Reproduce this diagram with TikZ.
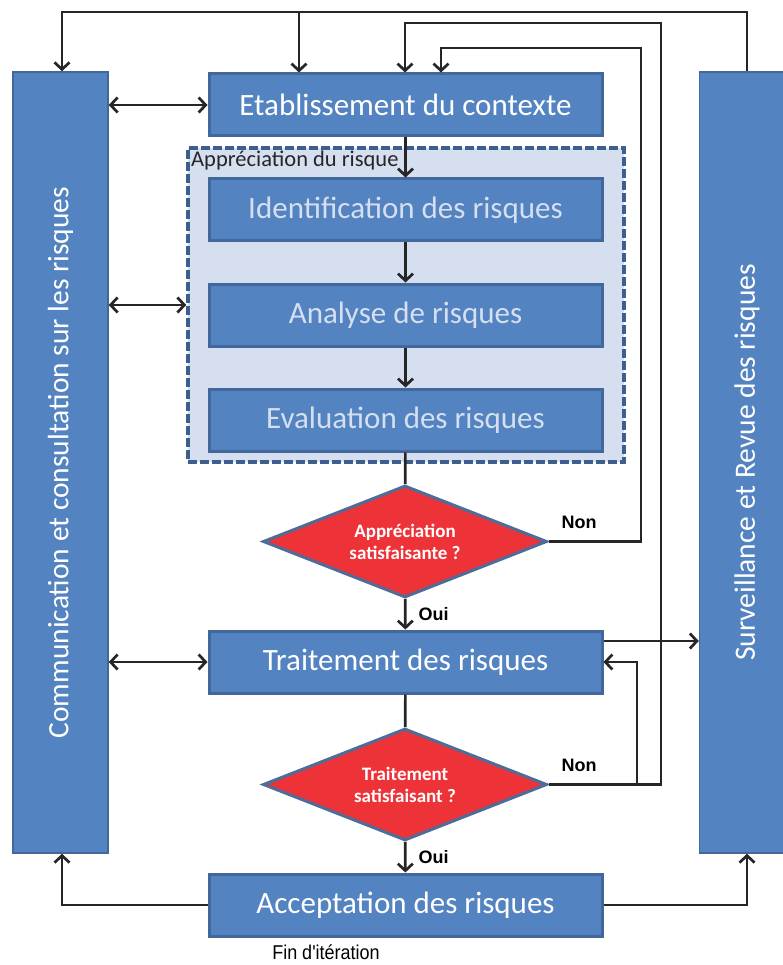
\documentclass[tikz,border=0pt]{standalone}
\usepackage{fontspec}
\setmainfont{Carlito}
\newfontfamily\tagfont{Liberation Sans}
\newfontfamily\notefont[FakeStretch=0.9]{Liberation Sans}
\usetikzlibrary{shapes.geometric,arrows.meta}

\definecolor{boxblue}{HTML}{5383C1}
\definecolor{boxedge}{HTML}{42679A}
\definecolor{groupfill}{HTML}{D6DFF0}
\definecolor{groupedge}{HTML}{3C5F8E}
\definecolor{choicered}{HTML}{EE3338}
\definecolor{choiceedge}{HTML}{4D6C99}
\definecolor{paletext}{HTML}{D5DFEF}
\definecolor{wire}{HTML}{262626}

\tikzset{
  stepbox/.style={draw=boxedge,line width=3pt,fill=boxblue,text=white,
    minimum width=393pt,minimum height=62pt,inner sep=0pt,
    font=\fontsize{31}{36}\selectfont},
  innerbox/.style={stepbox,text=paletext},
  sidebar/.style={draw=boxedge,line width=1.5pt,fill=boxblue,text=white,
    minimum width=95pt,minimum height=781pt,inner sep=0pt,
    font=\fontsize{29.5}{34}\selectfont},
  choice/.style={diamond,aspect=2.5,draw=choiceedge,line width=3pt,fill=choicered,
    text=white,minimum width=284pt,minimum height=112pt,inner sep=0pt,
    align=center,font=\bfseries\fontsize{19}{22}\selectfont},
  flow/.style={draw=wire,line width=2.7pt,
    >={Straight Barb[length=7pt,width=15pt]}},
  tag/.style={font=\tagfont\bfseries\fontsize{18}{20}\selectfont,inner sep=0pt}
}

\begin{document}
\begin{tikzpicture}[x=1pt,y=-1pt]
  \useasboundingbox (0,0) rectangle (783,965);

  \node[sidebar] at (60.5,462.5) (comm) {\rotatebox{90}{Communication et consultation sur les risques}};
  \node[sidebar] at (747,462.5) (watch) {\rotatebox{90}{Surveillance et Revue des risques}};

  \node[draw=groupedge,fill=groupfill,line width=3.5pt,dash pattern=on 9pt off 3pt,
    minimum width=436pt,minimum height=314pt] at (406,305) (group) {};
  \node[anchor=west,inner sep=0pt,font=\fontsize{22.5}{26}\selectfont,text=black!85]
    at (191,161) (grouptitle) {Appréciation du risque};

  \node[stepbox] at (405.5,105) (ctx) {Etablissement du contexte};
  \node[innerbox] at (405.5,210) (ident) {Identification des risques};
  \node[innerbox] at (405.5,315) (analyse) {Analyse de risques};
  \node[innerbox] at (405.5,420) (eval) {Evaluation des risques};
  \node[choice] at (405,541.5) (dec1) {Appréciation\\satisfaisante ?};
  \node[stepbox] at (405.5,662) (treat) {Traitement des risques};
  \node[choice] at (405,784.5) (dec2) {Traitement\\satisfaisant ?};
  \node[stepbox] at (405.5,905) (accept) {Acceptation des risques};

  \node[tag] at (579,522) (non1) {Non};
  \node[tag] at (579,765) (non2) {Non};
  \node[font=\notefont\fontsize{20}{22}\selectfont,inner sep=0pt] at (326,952) (end) {Fin d'itération};

  \coordinate (topL) at (62,12);
  \coordinate (topC) at (299,12);
  \coordinate (midL) at (405,23);
  \coordinate (midR) at (661,23);
  \coordinate (lowL) at (441,48);
  \coordinate (lowR) at (641,48);
  \coordinate (backT) at (637,783);

  \draw[flow,<->] (comm.east |- ctx) -- (ctx);
  \draw[flow,<->] (comm.east |- group) -- (group);
  \draw[flow,<->] (comm.east |- treat) -- (treat);

  \draw[flow,->] (ctx) -- (ident);
  \draw[flow,->] (ident) -- (analyse);
  \draw[flow,->] (analyse) -- (eval);
  \draw[flow] (eval) -- (dec1);
  \draw[flow,->] (dec1) -- node[tag,right,xshift=12pt] {Oui} (treat);
  \draw[flow] (treat) -- (dec2);
  \draw[flow,->] (dec2) -- node[tag,right,xshift=12pt] {Oui} (accept);

  \draw[flow,->] (watch.north) |- (topL) -- (comm.north -| topL);
  \draw[flow,->] (topC) -- (topC |- ctx.north);
  \draw[flow,->] (dec2.east) -- (dec2.east -| midR) |- (midL) -- (midL |- ctx.north);
  \draw[flow,->] (backT) |- (treat);
  \draw[flow,->] (dec1.east) -- (dec1.east -| lowR) |- (lowL) -- (lowL |- ctx.north);
  \draw[flow,->] ([yshift=21pt]treat.east) -- ([yshift=21pt]treat.east -| watch.west);
  \draw[flow,->] (accept) -| (comm.south -| topL);
  \draw[flow,->] (accept) -| (watch.south);
\end{tikzpicture}
\end{document}
